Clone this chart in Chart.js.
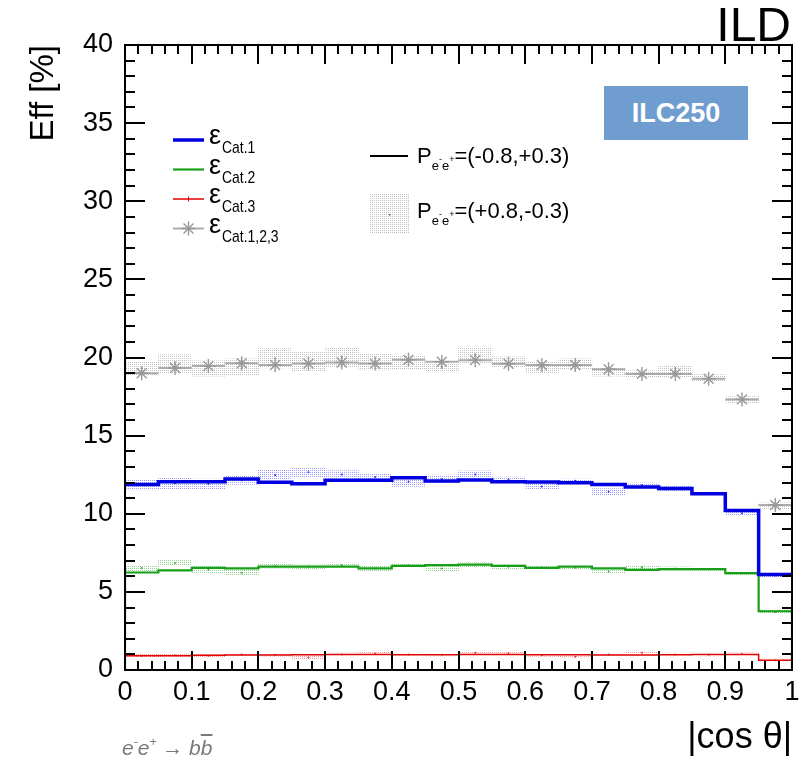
<!DOCTYPE html>
<html>
<head>
<meta charset="utf-8">
<title>Efficiency vs |cos θ| - ILD</title>
<script src="https://cdn.jsdelivr.net/npm/chart.js@4.4.1/dist/chart.umd.min.js"></script>
<style>
  body { margin: 0; background: #fff; }
  #wrap { position: relative; width: 801px; height: 760px; font-family: "Liberation Sans", Arial, sans-serif; }
  #wrap canvas { position: absolute; left: 0; top: 0; }
  .note { position: absolute; white-space: nowrap; line-height: 1; color: #000; }
  .eps { font-size: 27px; }
  .eps .sub { display: inline-block; font-size: 17px; position: relative; top: 9px; margin-left: 1px;
              transform: scaleX(0.82); transform-origin: left center; }
  .pol { font-size: 22px; }
  .pol .sub { font-size: 13px; position: relative; top: 7px; }
  .pol .sup { font-size: 9px; position: relative; top: -8px; }
  #ild { right: 10px; top: 1px; font-size: 48px; }
  #ilc { left: 604px; top: 86px; width: 144px; height: 54px; line-height: 54px; text-align: center;
         background: #6f9dcf; color: #fff; font-weight: bold; font-size: 27px; }
  #proc { left: 122px; top: 737px; font-size: 21px; font-style: italic; color: #7a7a7a; }
  #proc .sup { font-size: 12px; position: relative; top: -9px; }
  #proc .bar { text-decoration: overline; }
</style>
</head>
<body>
<div id="wrap">
  <canvas id="eff-chart" width="801" height="760"></canvas>
  <div class="note" id="ild">ILD</div>
  <div class="note" id="ilc">ILC250</div>
  <div class="note eps" style="left:209px;top:122px">ε<span class="sub">Cat.1</span></div>
  <div class="note eps" style="left:209px;top:151.5px">ε<span class="sub">Cat.2</span></div>
  <div class="note eps" style="left:209px;top:181px">ε<span class="sub">Cat.3</span></div>
  <div class="note eps" style="left:209px;top:210.5px">ε<span class="sub">Cat.1,2,3</span></div>
  <div class="note pol" style="left:417px;top:145px">P<span class="sub">e<span class="sup">-</span>e<span class="sup">+</span></span>=(-0.8,+0.3)</div>
  <div class="note pol" style="left:417px;top:200px">P<span class="sub">e<span class="sup">-</span>e<span class="sup">+</span></span>=(+0.8,-0.3)</div>
  <div class="note" id="proc">e<span class="sup">-</span>e<span class="sup">+</span> → b<span class="bar">b</span></div>
</div>
<script>
// Signal efficiency per category vs |cos theta| (ILC250, ILD)

// Bin edges of |cos theta|
const binEdges = [0, 0.05, 0.1, 0.15, 0.2, 0.25, 0.3, 0.35, 0.4, 0.45, 0.5,
                  0.55, 0.6, 0.65, 0.7, 0.75, 0.8, 0.85, 0.9, 0.95, 1];

// P(e-,e+) = (-0.8,+0.3): solid histograms
const effCat1 = [11.88, 12.05, 12.05, 12.22, 12.01, 11.92, 12.14, 12.14, 12.31, 12.09,
                 12.16, 12.05, 12.03, 11.99, 11.88, 11.71, 11.62, 11.28, 10.21, 6.11];
const effCat2 = [6.24, 6.37, 6.54, 6.50, 6.62, 6.62, 6.62, 6.50, 6.67, 6.71,
                 6.75, 6.67, 6.54, 6.62, 6.50, 6.41, 6.45, 6.45, 6.20, 3.76];
const effCat3 = [0.92, 0.92, 0.94, 0.96, 0.96, 0.98, 1.00, 1.00, 0.98, 0.98,
                 1.00, 1.00, 0.98, 0.98, 0.96, 0.96, 0.98, 1.00, 1.00, 0.62];
const effAll  = [18.99, 19.33, 19.45, 19.63, 19.52, 19.61, 19.68, 19.61, 19.85, 19.73,
                 19.83, 19.60, 19.52, 19.52, 19.25, 18.95, 18.95, 18.64, 17.32, 10.56];

// P(e-,e+) = (+0.8,-0.3): dotted error boxes (value and half height)
const plusCat1 = [11.85, 11.95, 11.90, 12.15, 12.48, 12.65, 12.52, 12.35, 12.05, 12.22,
                  12.52, 12.20, 11.75, 12.12, 11.41, 11.84, 11.58, 11.28, 10.04, 6.05];
const plusCat1Err = [0.32, 0.34, 0.32, 0.28, 0.30, 0.30, 0.25, 0.22, 0.30, 0.25,
                     0.22, 0.15, 0.15, 0.10, 0.20, 0.13, 0.17, 0.10, 0.10, 0.10];
const plusCat2 = [6.53, 6.85, 6.44, 6.23, 6.66, 6.61, 6.70, 6.50, 6.70, 6.50,
                  6.74, 6.61, 6.57, 6.55, 6.31, 6.57, 6.49, 6.45, 6.17, 3.71];
const plusCat2Err = [0.17, 0.17, 0.20, 0.17, 0.15, 0.12, 0.12, 0.15, 0.12, 0.15,
                     0.12, 0.12, 0.12, 0.12, 0.12, 0.12, 0.12, 0.10, 0.10, 0.10];
const plusCat3 = [0.92, 0.95, 0.90, 1.00, 0.97, 0.80, 1.00, 1.05, 1.00, 0.98,
                  1.10, 1.08, 0.95, 0.85, 1.00, 1.10, 1.00, 0.98, 1.02, 0.62];
const plusCat3Err = [0.08, 0.08, 0.08, 0.08, 0.08, 0.08, 0.08, 0.08, 0.08, 0.08,
                     0.08, 0.08, 0.08, 0.08, 0.08, 0.08, 0.08, 0.08, 0.08, 0.08];
const plusAll = [19.31, 19.60, 19.30, 19.39, 19.95, 19.71, 20.01, 19.71, 19.67, 19.35,
                 20.14, 19.71, 19.39, 19.60, 19.09, 18.94, 19.11, 18.71, 17.30, 10.50];
const plusAllErr = [0.43, 0.58, 0.49, 0.53, 0.62, 0.62, 0.64, 0.51, 0.40, 0.28,
                    0.53, 0.34, 0.36, 0.32, 0.28, 0.21, 0.34, 0.19, 0.20, 0.20];

// Axis ticks
const xTickStep = 0.1;
const yTickStep = 5;

(function() {
    'use strict';

    const FONT = '"Liberation Sans", Arial, sans-serif';
    const canvas = document.getElementById('eff-chart');
    const ctx = canvas.getContext('2d');

    Chart.defaults.font.family = FONT;
    Chart.defaults.color = '#000';

    // Small dotted fill, like the ROOT hatch style
    function dotPattern(color) {
        const c = document.createElement('canvas');
        c.width = 2;
        c.height = 2;
        const g = c.getContext('2d');
        g.fillStyle = color;
        g.fillRect(0, 0, 1, 1);
        return ctx.createPattern(c, 'repeat');
    }

    const binCenters = binEdges.slice(0, -1).map((e, i) => (e + binEdges[i + 1]) / 2);

    // Histogram outline: one point per lower edge plus the last upper edge
    function histPoints(vals) {
        return binEdges.map((e, i) => ({ x: e, y: vals[Math.min(i, vals.length - 1)] }));
    }

    // Horizontal bar over each bin, broken between bins
    function binSegments(vals) {
        const pts = [];
        vals.forEach((v, i) => {
            pts.push({ x: binEdges[i], y: v }, { x: binEdges[i + 1], y: v }, { x: binEdges[i + 1], y: null });
        });
        return pts;
    }

    function errorBoxes(vals, errs) {
        return binCenters.map((c, i) => ({ x: c, y: [vals[i] - errs[i], vals[i] + errs[i]] }));
    }

    function centerDots(vals) {
        return binCenters.map((c, i) => ({ x: c, y: vals[i] }));
    }

    const greenHist = histPoints(effCat2);
    greenHist.unshift({ x: binEdges[0], y: 0 });
    greenHist.push({ x: binEdges[binEdges.length - 1], y: 0 });

    const BLUE = '#0000e0';
    const GREEN = '#17a017';
    const RED = '#e00000';
    const GREY = '#acacac';
    const STAR = '#999999';
    const BOX_GREY = 'rgba(160,160,160,0.65)';

    function boxSet(data, color) {
        return {
            type: 'bar', data: data, backgroundColor: dotPattern(color), borderWidth: 0,
            grouped: false, barPercentage: 1, categoryPercentage: 1, order: 5
        };
    }

    function dotSet(data, color) {
        return {
            type: 'line', data: data, showLine: false, pointRadius: 1, pointBorderWidth: 0,
            pointBackgroundColor: color, order: 4
        };
    }

    const datasets = [
        { type: 'line', data: binSegments(effAll), borderColor: GREY, borderWidth: 2,
          pointRadius: 0, spanGaps: false, order: 1 },
        { type: 'line', data: centerDots(effAll), showLine: false, pointStyle: 'star',
          pointRadius: 7, pointBorderColor: STAR, pointBorderWidth: 1.4, order: 0 },
        { type: 'line', data: histPoints(effCat1), stepped: true, borderColor: BLUE,
          borderWidth: 3.5, pointRadius: 0, order: 2 },
        { type: 'line', data: greenHist, stepped: true, borderColor: GREEN,
          borderWidth: 2.2, pointRadius: 0, order: 3 },
        { type: 'line', data: histPoints(effCat3), stepped: true, borderColor: RED,
          borderWidth: 1.5, pointRadius: 0, order: 3 },
        dotSet(centerDots(plusCat1), '#3333ff'),
        dotSet(centerDots(plusCat2), '#33aa33'),
        dotSet(centerDots(plusCat3), '#ee3333'),
        dotSet(centerDots(plusAll), '#888888'),
        boxSet(errorBoxes(plusCat1, plusCat1Err), 'rgba(90,90,255,0.6)'),
        boxSet(errorBoxes(plusCat2, plusCat2Err), 'rgba(70,180,70,0.6)'),
        boxSet(errorBoxes(plusCat3, plusCat3Err), 'rgba(255,110,110,0.7)'),
        boxSet(errorBoxes(plusAll, plusAllErr), BOX_GREY)
    ];

    // Frame with inner ticks on all four sides, plus the legend symbols
    const framePlugin = {
        id: 'frame',
        afterDatasetsDraw(chart) {
            const { ctx: c, chartArea: a, scales } = chart;
            const x = scales.x;
            const y = scales.y;
            c.save();
            c.strokeStyle = '#000';
            c.lineWidth = 2;
            c.strokeRect(a.left, a.top, a.right - a.left, a.bottom - a.top);
            c.beginPath();
            for (let k = 0; k <= 50; k++) {
                const px = Math.round(x.getPixelForValue(k * xTickStep / 5));
                const len = k % 5 === 0 ? 19 : 9;
                c.moveTo(px, a.bottom); c.lineTo(px, a.bottom - len);
                c.moveTo(px, a.top); c.lineTo(px, a.top + len);
            }
            for (let k = 0; k <= 40; k++) {
                const py = Math.round(y.getPixelForValue(k * yTickStep / 5));
                const len = k % 5 === 0 ? 20 : 10;
                c.moveTo(a.left, py); c.lineTo(a.left + len, py);
                c.moveTo(a.right, py); c.lineTo(a.right - len, py);
            }
            c.stroke();

            // legend: line samples
            const line = (x0, x1, yy, color, w) => {
                c.beginPath();
                c.strokeStyle = color;
                c.lineWidth = w;
                c.moveTo(x0, yy);
                c.lineTo(x1, yy);
                c.stroke();
            };
            line(173, 204, 140, BLUE, 3.5);
            line(173, 204, 169.5, GREEN, 2.2);
            line(173, 204, 199, RED, 1.5);
            c.lineWidth = 1;
            c.beginPath(); c.moveTo(188.5, 196.5); c.lineTo(188.5, 201.5); c.stroke();
            line(173, 204, 228.5, GREY, 2);
            // star marker
            c.beginPath();
            c.strokeStyle = STAR;
            c.lineWidth = 1.4;
            for (let k = 0; k < 4; k++) {
                const ang = k * Math.PI / 4;
                c.moveTo(188.5 - 7 * Math.cos(ang), 228.5 - 7 * Math.sin(ang));
                c.lineTo(188.5 + 7 * Math.cos(ang), 228.5 + 7 * Math.sin(ang));
            }
            c.stroke();
            line(370, 408, 156, '#000', 2);
            c.fillStyle = dotPattern(BOX_GREY);
            c.fillRect(370, 194, 39, 40);
            c.fillStyle = '#555';
            c.fillRect(389, 214, 1.5, 1.5);
            c.restore();
        }
    };

    new Chart(ctx, {
        type: 'line',
        data: { datasets: datasets },
        options: {
            responsive: false,
            animation: false,
            devicePixelRatio: 1,
            layout: { padding: { left: 0, top: 45, right: 9, bottom: 0 } },
            plugins: {
                legend: { display: false },
                tooltip: { enabled: false }
            },
            scales: {
                x: {
                    type: 'linear',
                    min: 0,
                    max: 1,
                    offset: false,
                    grid: { display: false, drawTicks: false },
                    border: { display: false },
                    ticks: {
                        stepSize: xTickStep,
                        autoSkip: false,
                        maxRotation: 0,
                        padding: 6,
                        font: { size: 27 },
                        color: '#000',
                        callback: (v) => (v === 0 || v === 1) ? String(v) : v.toFixed(1)
                    },
                    title: {
                        display: true,
                        text: '|cos θ|',
                        align: 'end',
                        color: '#000',
                        font: { size: 36 },
                        padding: { top: 0, bottom: 0 }
                    },
                    afterFit: (scale) => {
                        scale.height = 90;
                        scale.paddingLeft = 0;
                        scale.paddingRight = 0;
                    }
                },
                y: {
                    min: 0,
                    max: 40,
                    grid: { display: false, drawTicks: false },
                    border: { display: false },
                    ticks: {
                        stepSize: yTickStep,
                        padding: 12,
                        font: { size: 27 },
                        color: '#000'
                    },
                    title: {
                        display: true,
                        text: 'Eff [%]',
                        align: 'end',
                        color: '#000',
                        font: { size: 33 },
                        padding: { top: 24, bottom: 0 }
                    },
                    afterFit: (scale) => {
                        scale.width = 125;
                        scale.paddingTop = 0;
                        scale.paddingBottom = 0;
                    }
                }
            }
        },
        plugins: [framePlugin]
    });
})();
</script>
</body>
</html>
